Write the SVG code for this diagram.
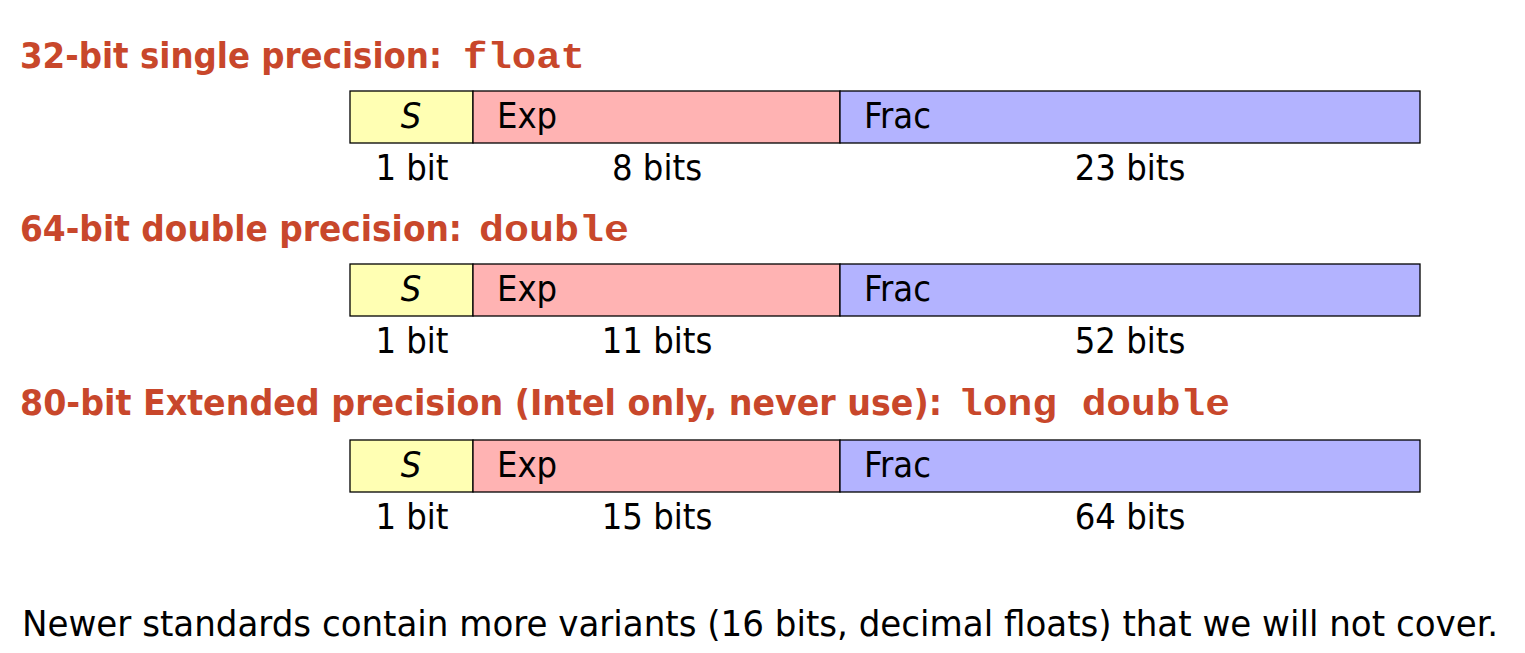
<svg xmlns="http://www.w3.org/2000/svg" width="1525" height="653" viewBox="0 0 1525 653">
<style>
.h{font-family:"DejaVu Sans Condensed","Liberation Sans",sans-serif;font-weight:bold;font-size:36px;fill:#c8472b}
.m{font-family:"Liberation Mono",monospace;font-weight:bold;font-size:36px;fill:#c8472b}
.t{font-family:"DejaVu Sans Condensed","Liberation Sans",sans-serif;font-size:36px;fill:#000}
.c{text-anchor:middle}
.s{fill:#ffffb3;stroke:#000;stroke-width:1.3}
.e{fill:#ffb3b3;stroke:#000;stroke-width:1.3}
.f{fill:#b3b3ff;stroke:#000;stroke-width:1.3}
</style>
<rect width="1525" height="653" fill="#fff"/>
<g id="h1"><text class="h" x="20" y="68" textLength="422" lengthAdjust="spacingAndGlyphs">32-bit single precision:</text><text class="m" x="463" y="68" textLength="122" lengthAdjust="spacingAndGlyphs">float</text></g>
<g id="row1">
<rect class="s" x="350" y="91" width="123" height="52"/><rect class="e" x="473" y="91" width="367" height="52"/><rect class="f" x="840" y="91" width="580" height="52"/>
<text class="t c" x="411" y="128" font-style="italic">S</text><text class="t" x="497" y="128">Exp</text><text class="t" x="864" y="128">Frac</text>
<text class="t c" x="412" y="180">1 bit</text><text class="t c" x="657" y="180">8 bits</text><text class="t c" x="1130" y="180">23 bits</text>
</g>
<g id="h2"><text class="h" x="20" y="241" textLength="442" lengthAdjust="spacingAndGlyphs">64-bit double precision:</text><text class="m" x="479" y="241" textLength="150" lengthAdjust="spacingAndGlyphs">double</text></g>
<g id="row2">
<rect class="s" x="350" y="264" width="123" height="52"/><rect class="e" x="473" y="264" width="367" height="52"/><rect class="f" x="840" y="264" width="580" height="52"/>
<text class="t c" x="411" y="301" font-style="italic">S</text><text class="t" x="497" y="301">Exp</text><text class="t" x="864" y="301">Frac</text>
<text class="t c" x="412" y="353">1 bit</text><text class="t c" x="657" y="353">11 bits</text><text class="t c" x="1130" y="353">52 bits</text>
</g>
<g id="h3"><text class="h" x="20" y="415" textLength="922" lengthAdjust="spacingAndGlyphs">80-bit Extended precision (Intel only, never use):</text><text class="m" x="958" y="415" textLength="272" lengthAdjust="spacingAndGlyphs">long double</text></g>
<g id="row3">
<rect class="s" x="350" y="440" width="123" height="52"/><rect class="e" x="473" y="440" width="367" height="52"/><rect class="f" x="840" y="440" width="580" height="52"/>
<text class="t c" x="411" y="477" font-style="italic">S</text><text class="t" x="497" y="477">Exp</text><text class="t" x="864" y="477">Frac</text>
<text class="t c" x="412" y="529">1 bit</text><text class="t c" x="657" y="529">15 bits</text><text class="t c" x="1130" y="529">64 bits</text>
</g>
<g id="note"><text class="t" x="22" y="636" textLength="1476" lengthAdjust="spacingAndGlyphs">Newer standards contain more variants (16 bits, decimal floats) that we will not cover.</text></g>
<g id="connectors"/>
</svg>
